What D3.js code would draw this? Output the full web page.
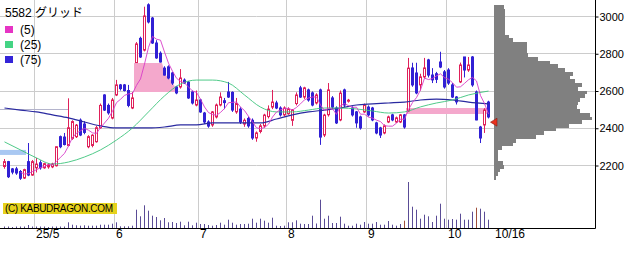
<!DOCTYPE html>
<html>
<head>
<meta charset="utf-8">
<script src="https://cdn.jsdelivr.net/npm/d3@7"></script>
<style>
	body { margin: 0; background: #fff; }
	svg { display: block; font-family: "Liberation Sans", "Noto Sans CJK JP", sans-serif; }
</style>
</head>
<body>
<svg id="chart" width="640" height="255"></svg>
<script>
// --- data ---
const ticker = "5582 グリッド";
const legendNames = ["(5)", "(25)", "(75)"];
const monthStart = [8, 28, 49, 71, 91, 111];
const monthLabel = ["25/5", "6", "7", "8", "9", "10"];
const lastLabel = "10/16";
const priceTicks = [2200, 2400, 2600, 2800, 3000];

const open = [2192, 2218, 2179, 2179, 2165, 2130, 2218, 2146, 2185, 2212,
	2185, 2190, 2190, 2196, 2352, 2350, 2305, 2343, 2352, 2441,
	2420, 2298, 2305, 2325, 2400, 2576, 2520, 2452, 2576, 2630,
	2630, 2600, 2506, 2750, 2880, 2817, 3060, 2989, 2855, 2800,
	2720, 2727, 2694, 2619, 2619, 2656, 2645, 2592, 2522, 2549,
	2479, 2431, 2415, 2458, 2522, 2545, 2592, 2590, 2485, 2500,
	2420, 2450, 2440, 2345, 2380, 2410, 2460, 2511, 2533, 2506,
	2469, 2475, 2440, 2530, 2614, 2565, 2603, 2587, 2533, 2603,
	2361, 2470, 2560, 2506, 2442, 2603, 2545, 2506, 2485, 2458,
	2485, 2511, 2506, 2426, 2399, 2372, 2431, 2469, 2431, 2431,
	2469, 2490, 2721, 2694, 2630, 2673, 2764, 2683, 2690, 2753,
	2700, 2710, 2630, 2565, 2646, 2780, 2710, 2780, 2592, 2404,
	2415, 2538];
const high = [2232, 2222, 2184, 2190, 2173, 2180, 2318, 2227, 2238, 2225,
	2212, 2210, 2212, 2300, 2358, 2372, 2558, 2440, 2420, 2450,
	2435, 2360, 2365, 2410, 2530, 2580, 2530, 2560, 2657, 2635,
	2635, 2630, 2592, 2860, 2889, 3050, 3068, 2995, 2870, 2810,
	2730, 2735, 2700, 2625, 2715, 2665, 2650, 2600, 2600, 2555,
	2485, 2440, 2490, 2530, 2590, 2560, 2646, 2595, 2560, 2510,
	2450, 2460, 2450, 2380, 2420, 2475, 2520, 2603, 2545, 2515,
	2515, 2510, 2500, 2590, 2625, 2620, 2610, 2595, 2585, 2610,
	2475, 2640, 2570, 2515, 2600, 2610, 2555, 2515, 2490, 2465,
	2530, 2520, 2512, 2432, 2405, 2418, 2465, 2475, 2460, 2474,
	2474, 2775, 2749, 2749, 2690, 2775, 2770, 2720, 2700, 2808,
	2710, 2720, 2640, 2570, 2750, 2780, 2780, 2785, 2600, 2410,
	2505, 2545];
const low = [2180, 2130, 2150, 2147, 2120, 2125, 2140, 2142, 2160, 2175,
	2180, 2180, 2183, 2192, 2290, 2305, 2300, 2335, 2345, 2355,
	2365, 2290, 2295, 2320, 2395, 2490, 2470, 2445, 2570, 2600,
	2595, 2510, 2500, 2748, 2775, 2810, 2960, 2850, 2770, 2750,
	2680, 2660, 2630, 2580, 2610, 2635, 2555, 2525, 2515, 2480,
	2420, 2400, 2405, 2450, 2515, 2500, 2560, 2485, 2475, 2420,
	2405, 2400, 2335, 2325, 2370, 2400, 2450, 2500, 2500, 2460,
	2460, 2470, 2410, 2520, 2560, 2555, 2540, 2515, 2525, 2308,
	2350, 2460, 2500, 2420, 2435, 2510, 2535, 2460, 2400, 2390,
	2480, 2460, 2435, 2365, 2345, 2365, 2425, 2435, 2425, 2425,
	2395, 2485, 2620, 2580, 2600, 2665, 2670, 2640, 2640, 2720,
	2610, 2630, 2560, 2525, 2640, 2670, 2700, 2620, 2440, 2318,
	2372, 2450];
const close = [2218, 2137, 2162, 2157, 2129, 2175, 2146, 2218, 2205, 2185,
	2207, 2200, 2205, 2298, 2298, 2310, 2400, 2433, 2414, 2361,
	2375, 2352, 2360, 2400, 2520, 2495, 2480, 2549, 2630, 2610,
	2600, 2520, 2560, 2850, 2780, 3000, 2968, 2855, 2775, 2753,
	2683, 2667, 2640, 2587, 2667, 2640, 2560, 2533, 2549, 2485,
	2431, 2409, 2485, 2522, 2565, 2535, 2565, 2495, 2530, 2431,
	2440, 2410, 2345, 2372, 2410, 2468, 2500, 2538, 2506, 2469,
	2506, 2500, 2495, 2576, 2565, 2614, 2549, 2522, 2576, 2350,
	2468, 2603, 2511, 2426, 2586, 2522, 2548, 2469, 2426, 2399,
	2522, 2469, 2442, 2372, 2361, 2410, 2458, 2442, 2453, 2469,
	2404, 2720, 2630, 2587, 2673, 2721, 2683, 2657, 2660, 2726,
	2619, 2640, 2565, 2539, 2737, 2710, 2737, 2630, 2442, 2345,
	2495, 2458];
const volume = [15, 15, 10, 15, 15, 15, 30, 15, 15, 15,
	15, 10, 15, 15, 15, 15, 57, 33, 27, 23,
	27, 23, 23, 23, 33, 33, 33, 43, 57, 17,
	17, 17, 23, 183, 117, 227, 173, 123, 110, 77,
	100, 57, 60, 50, 63, 27, 63, 27, 53, 40,
	40, 30, 23, 30, 53, 33, 83, 53, 33, 40,
	40, 43, 93, 53, 93, 73, 53, 103, 23, 20,
	23, 57, 57, 77, 43, 40, 40, 123, 45, 283,
	93, 123, 50, 50, 113, 43, 23, 23, 43, 33,
	60, 43, 43, 60, 33, 33, 70, 33, 23, 40,
	73, 460, 213, 183, 93, 133, 117, 60, 123, 243,
	93, 83, 90, 83, 143, 83, 83, 163, 203, 193,
	163, 83];
const volumeHot = [100, 118];

const maIndex = [0, 4, 8, 12, 16, 20, 24, 28, 32, 36, 40, 44, 48, 52, 56, 60,
	64, 68, 72, 76, 80, 84, 88, 92, 96, 100, 104, 108, 112, 116, 121];
const ma25 = [2324, 2281, 2238, 2205, 2216, 2243, 2281, 2334, 2399, 2485, 2571,
	2635, 2656, 2656, 2640, 2576, 2511, 2485, 2485, 2495, 2506, 2506, 2501, 2490,
	2479, 2485, 2512, 2533, 2549, 2576, 2597];
const ma75 = [2506, 2495, 2485, 2469, 2453, 2431, 2410, 2399, 2399, 2399, 2404,
	2415, 2415, 2426, 2426, 2426, 2426, 2447, 2469, 2485, 2495, 2506, 2522, 2528,
	2533, 2538, 2549, 2554, 2549, 2538, 2528];

// price-by-volume profile, 20 yen steps
const profileLevel = [3040, 3020, 3000, 2980, 2960, 2940, 2920, 2900, 2880, 2860,
	2840, 2820, 2800, 2780, 2760, 2740, 2720, 2700, 2680, 2660, 2640, 2620, 2600,
	2580, 2560, 2540, 2520, 2500, 2480, 2460, 2440, 2420, 2400, 2380, 2360, 2340,
	2320, 2300, 2280, 2260, 2240, 2220, 2200, 2180, 2160, 2140, 2120];
const profileVolume = [10, 11, 11, 11, 11, 11, 11, 11, 15, 19,
	33, 33, 33, 34, 44, 56, 64, 71, 79, 76, 81, 88, 84,
	93, 91, 86, 84, 83, 86, 96, 98, 88, 75, 62, 50, 42,
	22, 19, 8, 4, 4, 4, 9, 10, 6, 4, 2];

// open price gaps
const gapStart = [0, 33, 101];
const gapEnd = [5, 43, 121];
const gapLow = [2254, 2592, 2474];
const gapHigh = [2281, 2748, 2506];
const gapUp = [false, true, true];
const gapShrink = [false, true, false];

const refPrice = 2500, refFrom = 0, refTo = 16;
const lastPrice = 2430;

// --- colours ---
const upColor = "#e0205a";
const downColor = "#3120d4";
const ma5Color = "#d83cc8";
const ma25Color = "#3cc47c";
const ma75Color = "#2a2aa0";
const gridColor = "#cccccc";

class CandleChart {
	constructor(svg_id) {
		this.svg = d3.select("#" + svg_id);
		this.right = 595;
		this.bottom = 228;

		const n = close.length;
		this.x = d3.scaleBand().domain(d3.range(n)).range([2, 2 + 4 * n]);
		this.y = d3.scaleLinear().domain([2200, 3000]).range([165, 16]);
		this.vy = d3.scaleLinear().domain([0, 500]).range([this.bottom, this.bottom - 50]);
		this.px = d3.scaleLinear().domain([0, 100]).range([494, 594]);

		this.grid = this.svg.append("g");
		this.zones = this.svg.append("g");
		this.profile = this.svg.append("g");
		this.volumes = this.svg.append("g");
		this.candles = this.svg.append("g");
		this.lines = this.svg.append("g");
		this.frame = this.svg.append("g");
		this.legend = this.svg.append("g");

		this.drawGrid();
		this.drawZones();
		this.drawProfile();
		this.drawVolume();
		this.drawCandles();
		this.drawLines();
		this.drawFrame();
		this.drawLegend();
	}

	cx(i) {
		return this.x(i) + 2.5;
	}

	drawGrid() {
		const y = this.y;
		this.grid.selectAll(".hgrid")
			.data(priceTicks)
			.enter()
			.append("line")
			.attr("x1", 0)
			.attr("x2", this.right)
			.attr("y1", (d) => Math.round(y(d)) + 0.5)
			.attr("y2", (d) => Math.round(y(d)) + 0.5)
			.attr("stroke", gridColor);

		this.grid.selectAll(".vgrid")
			.data(monthStart)
			.enter()
			.append("line")
			.attr("x1", (d) => this.x(d) + 0.5)
			.attr("x2", (d) => this.x(d) + 0.5)
			.attr("y1", 0)
			.attr("y2", this.bottom)
			.attr("stroke", gridColor);
	}

	drawZones() {
		const y = this.y;
		for (let g = 0; g < gapStart.length; g++) {
			const lo = gapLow[g], hi = gapHigh[g];
			let pts = [];
			let x0 = gapStart[g] === 0 ? 0 : this.x(gapStart[g]);

			if (!gapShrink[g]) {
				pts.push([x0, hi]);
				pts.push([this.x(gapEnd[g]) + 4, hi]);
			} else {
				// the gap closes as later lows dig into it
				let top = hi;
				pts.push([x0, hi]);
				for (let i = gapStart[g]; i <= gapEnd[g]; i++) {
					top = Math.max(lo, Math.min(top, low[i]));
					pts.push([this.x(i) + 4, top]);
				}
			}

			const area = d3.area()
				.x((d) => d[0])
				.y0(y(lo))
				.y1((d) => y(d[1]));

			this.zones.append("path")
				.attr("d", area(pts))
				.attr("fill", gapUp[g] ? "#f4a8cc" : "#a9c8f2");
		}

		this.zones.append("line")
			.attr("x1", gapStart[0] === refFrom ? 0 : this.x(refFrom))
			.attr("x2", this.x(refTo) + 2)
			.attr("y1", Math.round(y(refPrice)) + 0.5)
			.attr("y2", Math.round(y(refPrice)) + 0.5)
			.attr("stroke", "#b4b4cc");
	}

	drawProfile() {
		const y = this.y;
		this.profile.selectAll("rect")
			.data(profileLevel)
			.enter()
			.append("rect")
			.attr("x", this.px(0))
			.attr("y", (d) => Math.round(y(d + 20)))
			.attr("width", (d, i) => Math.round(this.px(profileVolume[i]) - this.px(0)))
			.attr("height", (d) => Math.round(y(d)) - Math.round(y(d + 20)))
			.attr("shape-rendering", "crispEdges")
			.attr("fill", "#808080");

		const ym = y(lastPrice);
		this.profile.append("path")
			.attr("d", d3.line()([[490.5, ym], [497, ym - 4], [497, ym + 4]]) + "Z")
			.attr("fill", "#e8321e")
			.attr("stroke", "#8a1a10")
			.attr("stroke-width", 0.6);
	}

	drawVolume() {
		this.volumes.selectAll("line")
			.data(volume)
			.enter()
			.append("line")
			.attr("x1", (d, i) => this.cx(i))
			.attr("x2", (d, i) => this.cx(i))
			.attr("y1", this.bottom)
			.attr("y2", (d) => this.vy(d))
			.attr("stroke", (d, i) => volumeHot.includes(i) ? "#a0503c" : "#5a4c96");
	}

	drawCandles() {
		const y = this.y;
		const idx = d3.range(close.length);
		const up = (i) => close[i] >= open[i];

		this.candles.selectAll(".wick")
			.data(idx)
			.enter()
			.append("line")
			.classed("wick", true)
			.attr("x1", (i) => this.cx(i))
			.attr("x2", (i) => this.cx(i))
			.attr("y1", (i) => y(high[i]))
			.attr("y2", (i) => y(low[i]))
			.attr("stroke", (i) => up(i) ? upColor : downColor);

		this.candles.selectAll(".body")
			.data(idx)
			.enter()
			.append("rect")
			.classed("body", true)
			.attr("x", (i) => this.x(i) + 1.5)
			.attr("width", 2)
			.attr("y", (i) => y(Math.max(open[i], close[i])))
			.attr("height", (i) => Math.max(1, Math.abs(y(open[i]) - y(close[i]))))
			.attr("fill", (i) => up(i) ? "#ffffff" : downColor)
			.attr("stroke", (i) => up(i) ? upColor : downColor);
	}

	drawLines() {
		const y = this.y;

		let ma5 = [];
		for (let i = 4; i < close.length; i++) {
			ma5.push([i, d3.mean(close.slice(i - 4, i + 1))]);
		}

		const line = d3.line()
			.x((d) => this.cx(d[0]))
			.y((d) => y(d[1]))
			.curve(d3.curveMonotoneX);

		this.lines.append("path")
			.attr("d", line(maIndex.map((k, i) => [k, ma75[i]])))
			.attr("fill", "none")
			.attr("stroke", ma75Color)
			.attr("stroke-width", 1.2);

		this.lines.append("path")
			.attr("d", line(maIndex.map((k, i) => [k, ma25[i]])))
			.attr("fill", "none")
			.attr("stroke", ma25Color)
			.attr("stroke-width", 0.9);

		this.lines.append("path")
			.attr("d", d3.line().x((d) => this.cx(d[0])).y((d) => y(d[1]))(ma5))
			.attr("fill", "none")
			.attr("stroke", ma5Color)
			.attr("stroke-width", 0.9);
	}

	drawFrame() {
		this.frame.append("line")
			.attr("x1", this.right + 0.5).attr("x2", this.right + 0.5)
			.attr("y1", 0).attr("y2", this.bottom + 0.5)
			.attr("stroke", "#000");
		this.frame.append("line")
			.attr("x1", 0).attr("x2", this.right + 0.5)
			.attr("y1", this.bottom + 0.5).attr("y2", this.bottom + 0.5)
			.attr("stroke", "#000");

		const axis = d3.axisRight(this.y)
			.tickValues(priceTicks)
			.tickSize(3)
			.tickPadding(1)
			.tickFormat(d3.format("d"));

		const ax = this.frame.append("g")
			.attr("transform", "translate(" + (this.right + 0.5) + ",0.5)")
			.call(axis);
		ax.select(".domain").remove();
		ax.selectAll("text")
			.attr("font-size", 11)
			.attr("font-family", "Liberation Sans, sans-serif")
			.attr("fill", "#000");

		this.frame.selectAll(".month")
			.data(monthStart)
			.enter()
			.append("text")
			.attr("x", (d) => this.x(d) + 2)
			.attr("y", 238)
			.attr("font-size", 12)
			.text((d, i) => monthLabel[i]);

		this.frame.append("text")
			.attr("x", this.x(close.length - 1) + 9)
			.attr("y", 238)
			.attr("font-size", 12)
			.text(lastLabel);
	}

	drawLegend() {
		const boxColors = ["#e634c4", "#44d484", "#3424d8"];

		this.legend.append("text")
			.attr("x", 5)
			.attr("y", 17)
			.attr("font-size", 12)
			.text(ticker);

		const items = this.legend.selectAll(".item")
			.data(legendNames)
			.enter()
			.append("g")
			.attr("transform", (d, i) => "translate(5," + (26 + 15 * i) + ")");

		items.append("rect")
			.attr("width", 8)
			.attr("height", 7)
			.attr("fill", (d, i) => boxColors[i]);

		items.append("text")
			.attr("x", 15)
			.attr("y", 7.5)
			.attr("font-size", 12)
			.text((d) => d);

		this.legend.append("rect")
			.attr("x", 3)
			.attr("y", 203)
			.attr("width", 114)
			.attr("height", 11)
			.attr("fill", "#e6d21c");

		this.legend.append("text")
			.attr("x", 5)
			.attr("y", 212)
			.attr("font-size", 10)
			.attr("textLength", 108)
			.text("(C) KABUDRAGON.COM");
	}
}

const chart = new CandleChart("chart");
</script>
</body>
</html>
